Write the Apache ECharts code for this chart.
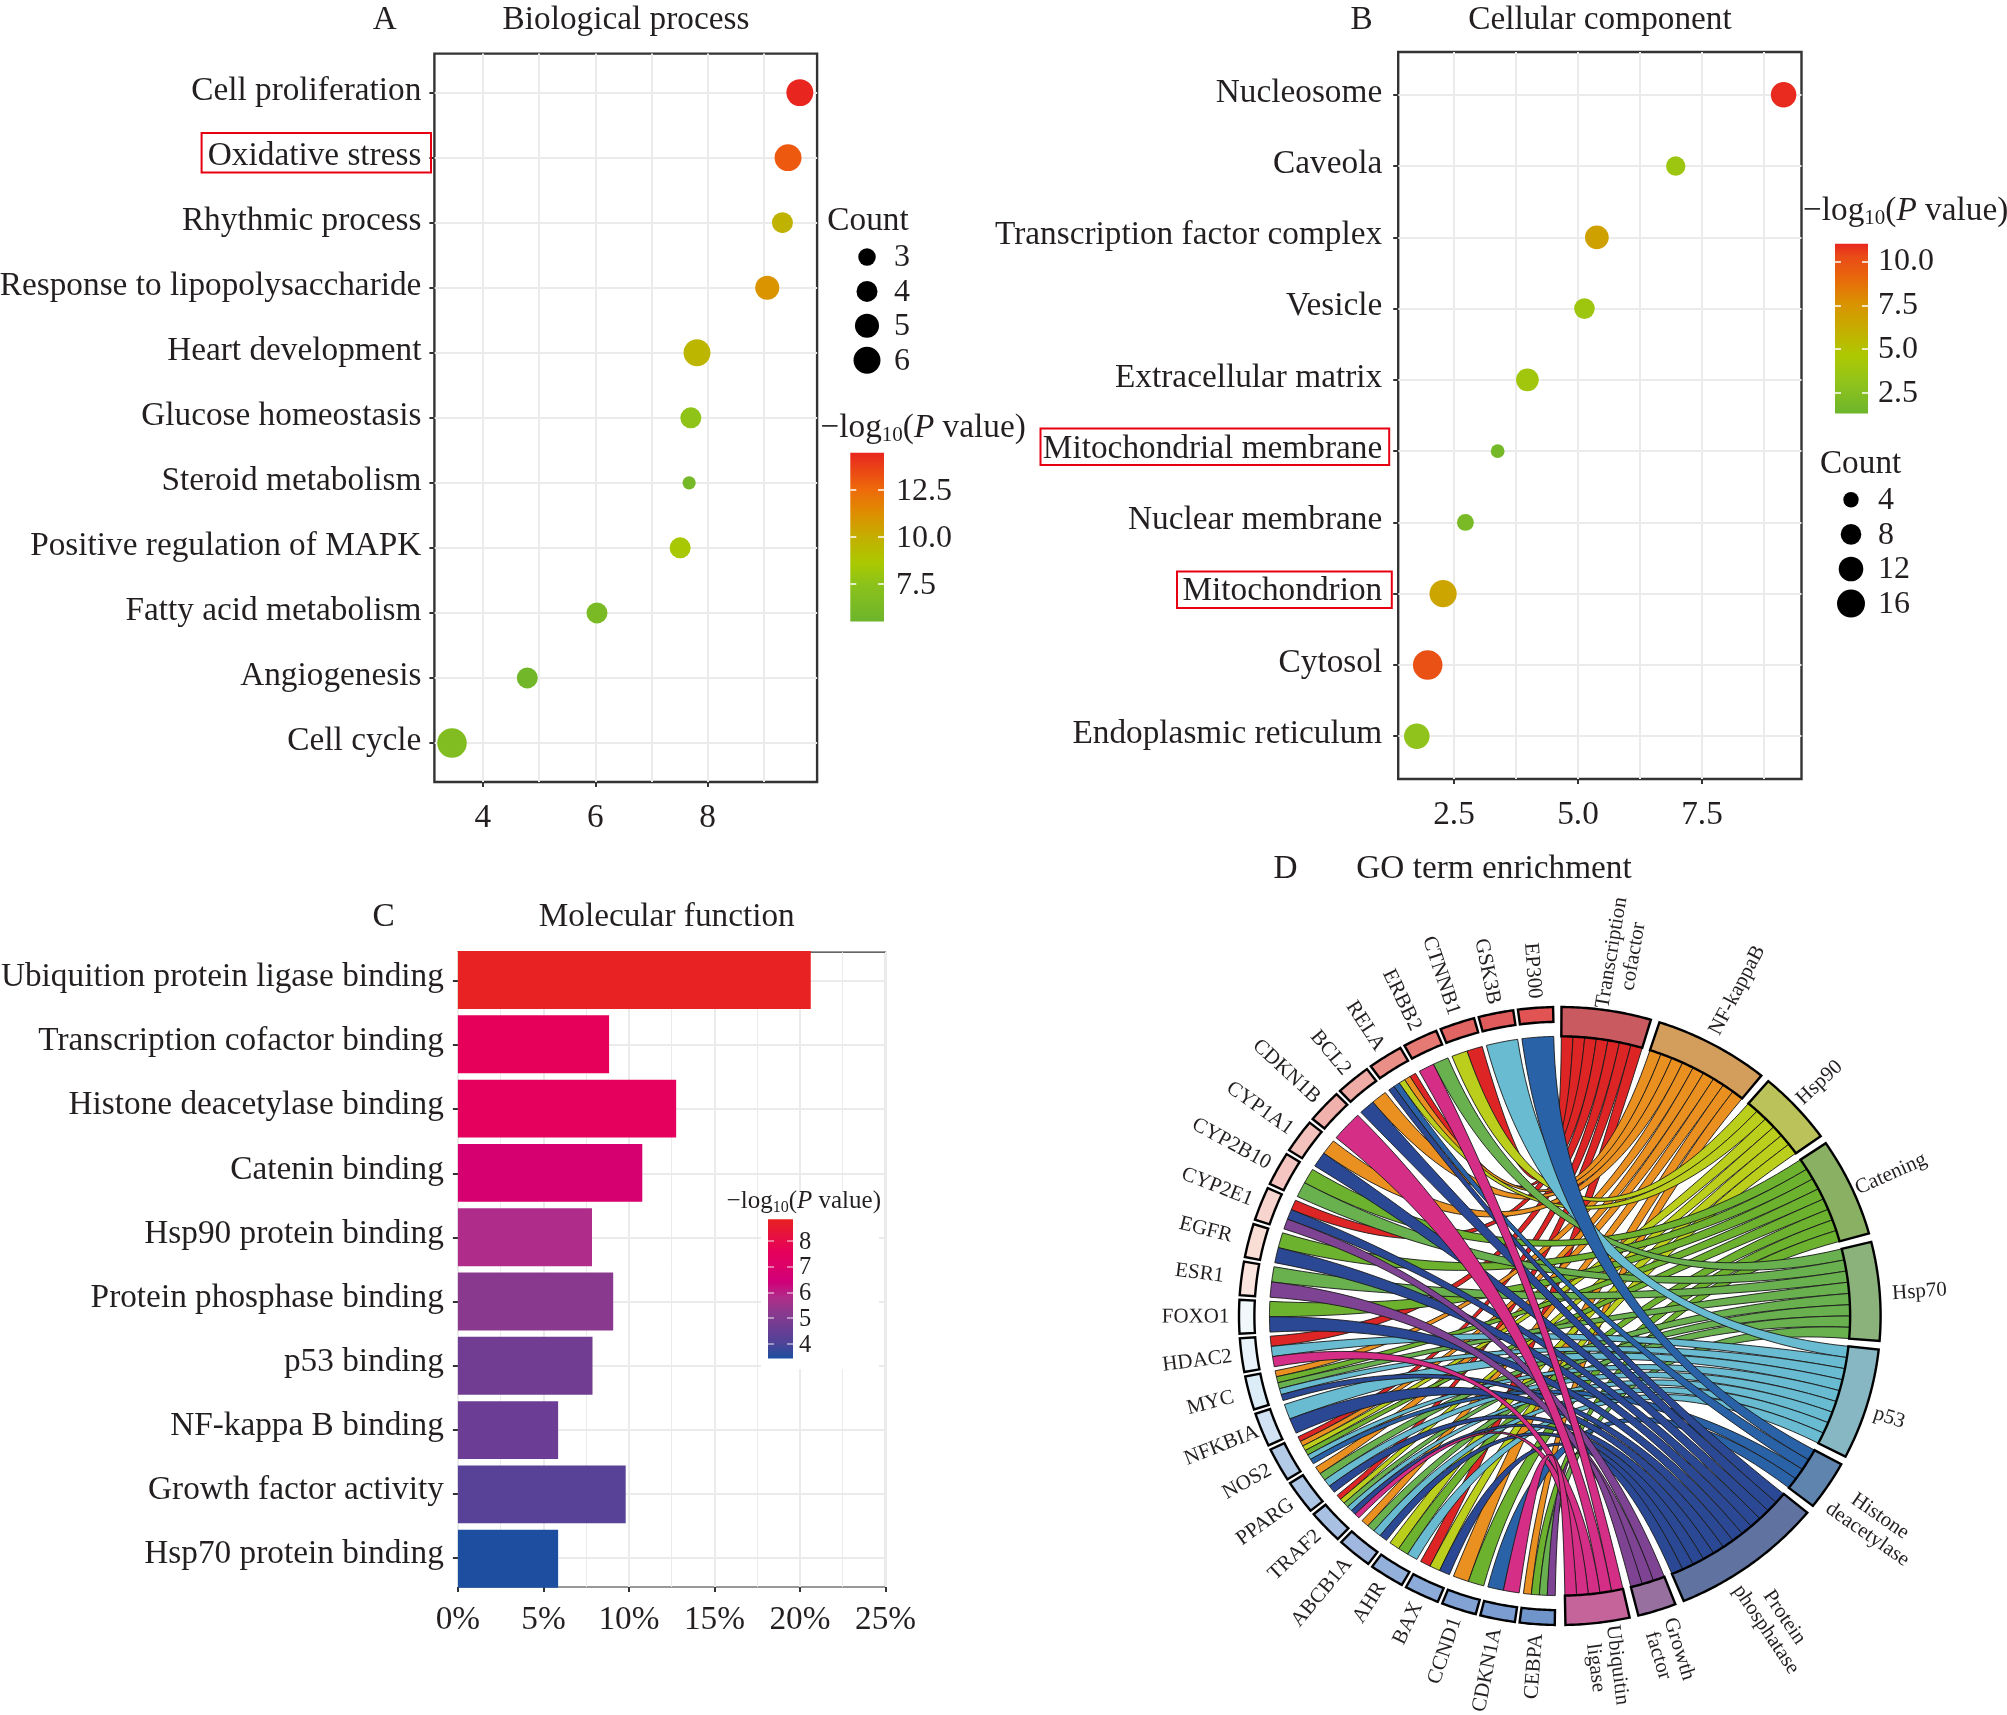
<!DOCTYPE html>
<html><head><meta charset="utf-8">
<style>html,body{margin:0;padding:0;background:#fff}#c{width:2007px;height:1715px}</style>
<script src="https://cdn.jsdelivr.net/npm/echarts@6/dist/echarts.min.js"></script>
</head><body><div id="c"></div>
<script>
// ---------- Panel A
const bpTerms = ['Cell proliferation','Oxidative stress','Rhythmic process','Response to lipopolysaccharide','Heart development','Glucose homeostasis','Steroid metabolism','Positive regulation of MAPK','Fatty acid metabolism','Angiogenesis','Cell cycle'];
const bpX = [9.64,9.43,9.33,9.06,7.81,7.70,7.67,7.51,6.03,4.79,3.45];
const bpCount = [6,6,4,5,6,4,2,4,4,4,7];
const bpLogP = [14.45,13,9.8,11,9.6,7.6,6,8.5,6.3,5.8,6.8];
const bpCountLegend = [3,4,5,6];
const bpTicks = [4,6,8];
const bpColorTicks = [7.5,10,12.5];
// ---------- Panel B
const ccTerms = ['Nucleosome','Caveola','Transcription factor complex','Vesicle','Extracellular matrix','Mitochondrial membrane','Nuclear membrane','Mitochondrion','Cytosol','Endoplasmic reticulum'];
const ccX = [9.145,6.97,5.38,5.13,3.98,3.38,2.73,2.28,1.97,1.75];
const ccCount = [13,7,11,8,10,3,5,15,18,13];
const ccLogP = [10.9,3.8,6.8,3.9,4,1.8,2,6.6,10,3.1];
const ccCountLegend = [4,8,12,16];
const ccTicks = [2.5,5,7.5];
const ccColorTicks = [2.5,5,7.5,10];
// ---------- Panel C
const mfTerms = ['Ubiquition protein ligase binding','Transcription cofactor binding','Histone deacetylase binding','Catenin binding','Hsp90 protein binding','Protein phosphase binding','p53 binding','NF-kappa B binding','Growth factor activity','Hsp70 protein binding'];
const mfPercent = [20.63,8.84,12.76,10.78,7.84,9.08,7.87,5.86,9.81,5.86];
const mfLogP = [8.83,7.6,7.5,6.7,5.8,5.2,4.7,4.6,4.2,3.45];
const mfTicks = [0,5,10,15,20,25];
const mfColorTicks = [4,5,6,7,8];
// ---------- Panel D
const goGenes = ['EP300','GSK3B','CTNNB1','ERBB2','RELA','BCL2','CDKN1B','CYP1A1','CYP2B10','CYP2E1','EGFR','ESR1','FOXO1','HDAC2','MYC','NFKBIA','NOS2','PPARG','TRAF2','ABCB1A','AHR','BAX','CCND1','CDKN1A','CEBPA'];
const goTerms = ['Transcription\ncofactor','NF-kappaB','Hsp90','Catening','Hsp70','p53','Histone\ndeacetylase','Protein\nphosphatase','Growth\nfactor','Ubiquitin\nligase'];
const goGeneTerms = [[6],[5],[0,2],[4,9],[0,1,2,6,7],[1,7],[9],[1,7],[3,4],[0,7,8],[3,7],[4,8],[3,7],[0,5,9],[1,3,4,5,7],[5,7],[0,1,2,3,5,6],[1,4,5,7],[0,2,4,5,7,9],[1,4,5,7],[2,3,5],[0,2,7],[1,3],[6,9],[1,3,4,8]];
// ---------- Colours
const goRibbonColors = ['#dc2524','#ea9020','#bbce1c','#6db22f','#69b04f','#68bbd0','#2a62a8','#2b4894','#7f4393','#d52e87'];
const goRingColors = ['#c95b60','#d39e5b','#bcc25a','#89b063','#8ab27a','#88b7c4','#5f84ad','#5f72a0','#9870a0','#c5649a'];
const goGeneColors = ['#e25354','#e05b5c','#e06462','#e57a74','#e98f88','#efaba5','#f0b0ac','#f4c2bd','#f5c6c1','#f8d4ce','#f9ded6','#fbe5de','#f0f8fc','#e8f3fb','#ddedf8','#d0e2f3','#b4cbe8','#afc7e6','#a8c0e2','#a0b8df','#92b0da','#8cabd8','#82a2d3','#7a9cd0','#6f95cb'];
const bpStops = [[5.52,'#6db52c'],[7.5,'#8cc21a'],[8.6,'#aac900'],[10,'#c4ae00'],[11.2,'#dd8f00'],[12.5,'#ee6a0a'],[14.45,'#e8261f']];
const ccStops = [[1.34,'#6db52c'],[3.2,'#92c41a'],[4.7,'#aec800'],[6.3,'#c8aa00'],[7.5,'#d89500'],[9,'#e8690a'],[10.3,'#ea4a18'],[11,'#e8261f']];
const mfStops = [[3.43,'#1c4ea0'],[4,'#4c4498'],[4.6,'#6c3d94'],[5.2,'#8a3a8e'],[5.8,'#b02c8a'],[6.4,'#d0007a'],[7,'#dc0068'],[7.6,'#e6005a'],[8.83,'#e82222']];

const FONT='Liberation Serif', INK='#231f20', FS=33.3;
function hex(c){return [1,3,5].map(i=>parseInt(c.substr(i,2),16));}
function colorAt(stops,v){
  if(v<=stops[0][0])return stops[0][1];
  for(let i=1;i<stops.length;i++){ if(v<=stops[i][0]){
    const t=(v-stops[i-1][0])/(stops[i][0]-stops[i-1][0]),a=hex(stops[i-1][1]),b=hex(stops[i][1]);
    return 'rgb('+a.map((x,k)=>Math.round(x+(b[k]-x)*t)).join(',')+')';}}
  return stops[stops.length-1][1];
}
const grids=[],xAxes=[],yAxes=[],series=[],graphics=[];
function addGrid(g){grids.push(Object.assign({outerBoundsMode:'none',containLabel:false},g));return grids.length-1;}
const GL='#ebebeb';
function text(t,x,y,size,extra){graphics.push({type:'text',z:5,style:Object.assign({text:t,x,y:y+2.5,font:size+'px "'+FONT+'"',fill:INK,align:'center',verticalAlign:'middle'},extra||{})});}
function logTitle(x,y,size){
  const s2=Math.round(size*0.62);
  graphics.push({type:'text',z:5,style:{text:'\u2212log{sub|10}({i|P} value)',x,y:y+2.5,font:size+'px "'+FONT+'"',fill:INK,align:'left',verticalAlign:'middle',
    rich:{sub:{font:s2+'px "'+FONT+'"',fill:INK,padding:[Math.round(size*0.42),0,0,0]},i:{font:'italic '+size+'px "'+FONT+'"',fill:INK}}}});
}
function redBox(x0,y0,x1,y1){graphics.push({type:'rect',z:5,shape:{x:x0,y:y0,width:x1-x0,height:y1-y0},style:{fill:'none',stroke:'#e60012',lineWidth:2}});}
function axisFont(size){return {fontFamily:FONT,fontSize:size,color:INK};}
// vertical nudge of axis labels: a short line box anchored on the tick
function nudge(px){ if(!px)return {}; return {verticalAlign:px<0?'bottom':'top',lineHeight:2*Math.abs(px)}; }

function frameAxes(gi,o){
  xAxes.push({gridIndex:gi,type:'value',min:o.xmin,max:o.xmax,position:'bottom',
    axisLine:{show:false,onZero:false},axisTick:{show:true,length:5,lineStyle:{color:'#333',width:2},customValues:o.ticks},
    axisLabel:Object.assign(axisFont(FS),{margin:o.xMargin,customValues:o.ticks,formatter:o.xFmt,interval:0,hideOverlap:false,showMinLabel:true,showMaxLabel:true}),
    splitLine:{show:true,lineStyle:{color:GL,width:o.majorW||2}}});
  const xi=xAxes.length-1;
  xAxes.push({gridIndex:gi,type:'value',min:o.xmin,max:o.xmax,position:'bottom',
    axisLine:{show:false,onZero:false},axisTick:{show:false,customValues:o.minor},axisLabel:{show:false,customValues:o.minor},
    splitLine:{show:true,lineStyle:{color:GL,width:o.minorW||2}}});
  yAxes.push({gridIndex:gi,type:'value',inverse:true,min:o.ymin,max:o.ymax,position:'left',
    axisLine:{show:false,onZero:false},axisTick:{show:true,length:5,lineStyle:{color:'#333',width:2},customValues:o.terms.map((_,i)=>i)},
    axisLabel:Object.assign(axisFont(FS),nudge(o.yNudge),{margin:o.yMargin,customValues:o.terms.map((_,i)=>i),formatter:v=>o.terms[Math.round(v)],interval:0,hideOverlap:false,showMinLabel:true,showMaxLabel:true}),
    splitLine:{show:true,lineStyle:{color:GL,width:2}}});
  return {xi,yi:yAxes.length-1};
}
function colorBar(left,top,w,h,vmin,vmax,stops,ticks,size,margin,fmt,tickColor,drop){
  const gi=addGrid({left,top,width:w,height:h,show:false});
  xAxes.push({gridIndex:gi,type:'value',min:0,max:1,show:false});
  const xi=xAxes.length-1;
  const mk=(pos,lab)=>({gridIndex:gi,type:'value',min:vmin,max:vmax,position:pos,z:3,
    axisLine:{show:false,onZero:false},splitLine:{show:false},
    axisTick:{show:true,inside:true,length:6,lineStyle:{color:tickColor||'#fff',width:1.5},customValues:ticks},
    axisLabel:lab?Object.assign(axisFont(size),nudge(drop),{margin,customValues:ticks,formatter:fmt,interval:0,hideOverlap:false,showMinLabel:true,showMaxLabel:true}):{show:false,customValues:ticks}});
  yAxes.push(mk('right',true));const yi=yAxes.length-1;
  yAxes.push(mk('left',false));
  const colorStops=stops.map(s=>({offset:(vmax-s[0])/(vmax-vmin),color:s[1]})).reverse();
  series.push({type:'custom',xAxisIndex:xi,yAxisIndex:yi,z:2,silent:true,clip:false,data:[[0,vmin,1,vmax]],
    renderItem:(p,api)=>{const a=api.coord([api.value(0),api.value(3)]),b=api.coord([api.value(2),api.value(1)]);
      return {type:'rect',shape:{x:a[0],y:a[1],width:b[0]-a[0],height:b[1]-a[1]},style:{fill:new echarts.graphic.LinearGradient(0,0,0,1,colorStops)}};}});
}
function countLegend(left,top,w,rowH,counts,sizeFn){
  const gi=addGrid({left,top,width:w,height:rowH*counts.length,show:false});
  xAxes.push({gridIndex:gi,type:'value',min:0,max:1,show:false});const xi=xAxes.length-1;
  yAxes.push({gridIndex:gi,type:'category',inverse:true,position:'right',data:counts.map(String),
    axisLine:{show:false,onZero:false},axisTick:{show:false},splitLine:{show:false},
    axisLabel:Object.assign(axisFont(32),nudge(1),{margin:10,interval:0})});
  series.push({type:'scatter',xAxisIndex:xi,yAxisIndex:yAxes.length-1,silent:true,data:counts.map((c,i)=>[0.5,i,c]),
    symbolSize:v=>sizeFn(v[2]),itemStyle:{color:'#000',opacity:1}});
}
function dotPanel(o){
  const gi=addGrid({left:o.l,top:o.t,width:o.r-o.l,height:o.b-o.t,show:true,borderColor:'#333',borderWidth:2.4,backgroundColor:'transparent'});
  const ax=frameAxes(gi,o);
  series.push({type:'scatter',xAxisIndex:ax.xi,yAxisIndex:ax.yi,silent:true,z:3,
    data:o.x.map((v,i)=>[v,i,o.count[i],o.logp[i]]),
    symbolSize:v=>o.size(v[2]),
    itemStyle:{opacity:1,color:p=>colorAt(o.stops,p.value[3])}});
}
// A
dotPanel({l:434.4,r:817.1,t:53.6,b:782,xmin:3.137,xmax:9.947,ymin:-0.6,ymax:10.6,terms:bpTerms,x:bpX,count:bpCount,logp:bpLogP,stops:bpStops,
  ticks:bpTicks,minor:[5,7,9],xMargin:20,yMargin:13,yNudge:-1.5,xFmt:v=>String(v),size:c=>-5.4+13.2*Math.sqrt(c)});
countLegend(850,239.8,34,34.4,bpCountLegend,c=>-5.4+13.2*Math.sqrt(c));
colorBar(850.3,452.7,33.7,168.7,5.52,14.45,bpStops,bpColorTicks,32,12,v=>v.toFixed(1),null,2);
text('A',384.7,17.7,FS);text('Biological process',626,17.7,FS);text('Count',868,218.6,FS);logTitle(820.5,426,FS);
redBox(201.6,132.9,431,172.5);
// B
dotPanel({l:1398.2,r:1801.5,t:52,b:779,xmin:1.375,xmax:9.506,ymin:-0.6,ymax:9.6,terms:ccTerms,x:ccX,count:ccCount,logp:ccLogP,stops:ccStops,
  ticks:ccTicks,minor:[3.75,6.25,8.75],xMargin:20,yMargin:16,yNudge:-2,xFmt:v=>v.toFixed(1),size:c=>2.8+6.3*Math.sqrt(c)});
countLegend(1834,482.5,34,34.6,ccCountLegend,c=>2.8+6.3*Math.sqrt(c));
colorBar(1835,243.7,33,169.9,1.34,11,ccStops,ccColorTicks,32,10,v=>v.toFixed(1),null,0);
text('B',1361.6,17.7,FS);text('Cellular component',1600,17.7,FS);text('Count',1860.6,461.8,FS);logTitle(1803,209,FS);
redBox(1040.5,428.6,1389.2,465);redBox(1177,571.6,1391.8,608);
// C
{
  const gi=addGrid({left:457.9,top:952.1,width:427.6,height:634.9,show:true,borderColor:'#333',borderWidth:1.2,backgroundColor:'transparent'});
  frameAxes(gi,{xmin:0,xmax:25,ymin:-0.45,ymax:9.45,terms:mfTerms,ticks:mfTicks,minor:[2.5,7.5,12.5,17.5,22.5],xMargin:17,yMargin:14,yNudge:-3.5,xFmt:v=>v+'%',majorW:2,minorW:1});
  const gd=addGrid({left:457.9,top:947.85,width:427.6,height:643,show:false});
  xAxes.push({gridIndex:gd,type:'value',min:0,max:25,show:false});
  yAxes.push({gridIndex:gd,type:'category',inverse:true,data:mfTerms,show:false});
  series.push({type:'bar',xAxisIndex:xAxes.length-1,yAxisIndex:yAxes.length-1,barWidth:'90%',silent:true,z:2,
    data:mfPercent.map((v,i)=>({value:v,itemStyle:{color:colorAt(mfStops,mfLogP[i])}}))});
  graphics.push({type:'rect',z:1,shape:{x:761,y:1191,width:118,height:178},style:{fill:'#fff'}});
  colorBar(768,1219.3,25,139.3,3.43,8.83,mfStops,mfColorTicks,24.5,6,v=>String(v),'rgba(255,255,255,0.6)',1.5);
  text('C',383.7,914.3,FS);text('Molecular function',666.7,914.3,FS);logTitle(726.6,1199.4,25);
}
// D
{
  const gi=addGrid({left:1239,top:1007,width:641.6,height:618,show:false});
  xAxes.push({gridIndex:gi,type:'value',min:-1,max:1,show:false});const xi=xAxes.length-1;
  yAxes.push({gridIndex:gi,type:'value',min:-1,max:1,show:false});const yi=yAxes.length-1;
  const D2R=Math.PI/180, RIB=0.905, GOUT=1, GIN=0.952, UNIT=2.314, GAP=1.6, GSTEP=7.15, GW=6.3, GSTART=-1.2, TSTART=0.3;
  const labelR=[1.186,1.19,1.107,1.13,1.124,1.078,1.19,1.2,1.14,1.143];
  const labelTh=[9.5,27.7,47,66,86,107.8,124.7,146,162.7,172.7];
  const geneLabelR={EGFR:1.055,ESR1:1.055,MYC:1.05,NFKBIA:1.012};
  const termSizes=goTerms.map((_,t)=>goGeneTerms.filter(g=>g.includes(t)).length);
  const termStart=[];let acc=TSTART;termSizes.forEach((n,t)=>{termStart[t]=acc;acc+=n*UNIT+GAP;});
  const pt=(th,r)=>[r*Math.sin(th*D2R),r*Math.cos(th*D2R)];
  const arc=(a,b,r)=>{const n=Math.max(2,Math.ceil(Math.abs(b-a)/0.5)),o=[];for(let i=0;i<=n;i++)o.push(pt(a+(b-a)*i/n,r));return o;};
  const quad=(p,q)=>{const o=[];for(let i=1;i<40;i++){const t=i/40,k=(1-t)*(1-t),m=t*t;o.push([k*p[0]+m*q[0],k*p[1]+m*q[1]]);}return o;};
  const used=goTerms.map(()=>0),ribbons=[];
  goGeneTerms.forEach((terms,g)=>{const top=GSTART-GSTEP*g,w=GW/terms.length;
    terms.forEach((t,j)=>{const b0=termStart[t]+used[t]*UNIT;used[t]++;
      ribbons.push({t,g0:top-(j+1)*w,g1:top-j*w,b0,b1:b0+UNIT});});});
  ribbons.sort((a,b)=>a.t-b.t);
  const project=(api,pts)=>pts.map(p=>api.coord(p));
  series.push({type:'custom',xAxisIndex:xi,yAxisIndex:yi,silent:true,z:2,clip:false,data:ribbons.map(r=>[0,0,r.t]),
    renderItem:(p,api)=>{const r=ribbons[p.dataIndex];
      const A=arc(r.b0,r.b1,RIB),B=arc(r.g0,r.g1,RIB);
      const pts=A.concat(quad(A[A.length-1],B[0]),B,quad(B[B.length-1],A[0]));
      return {type:'polygon',shape:{points:project(api,pts)},style:{fill:goRibbonColors[r.t],stroke:'#1a1a1a',lineWidth:0.9}};}});
  const ringPts=(a,b,r0,r1)=>arc(a,b,r1).concat(arc(b,a,r0));
  series.push({type:'custom',xAxisIndex:xi,yAxisIndex:yi,silent:true,z:3,clip:false,data:goTerms.map((_,t)=>[0,0,t]),
    renderItem:(p,api)=>{const t=p.dataIndex,a=termStart[t],b=a+termSizes[t]*UNIT;
      return {type:'polygon',shape:{points:project(api,ringPts(a,b,RIB,GOUT))},style:{fill:goRingColors[t],stroke:'#000',lineWidth:2.4}};}});
  series.push({type:'custom',xAxisIndex:xi,yAxisIndex:yi,silent:true,z:3,clip:false,data:goGenes.map((_,g)=>[0,0,g]),
    renderItem:(p,api)=>{const g=p.dataIndex,a=GSTART-GSTEP*g;
      return {type:'polygon',shape:{points:project(api,ringPts(a-GW,a,GIN,GOUT))},style:{fill:goGeneColors[g],stroke:'#000',lineWidth:2.4}};}});
  series.push({type:'custom',xAxisIndex:xi,yAxisIndex:yi,silent:true,z:4,clip:false,data:goGenes.map((_,g)=>[0,0,g]),
    renderItem:(p,api)=>{const g=p.dataIndex,th=GSTART-GSTEP*g-GW/2,c=api.coord(pt(th,geneLabelR[goGenes[g]]||1.03));
      return {type:'text',x:c[0],y:c[1],rotation:-(90+th)*D2R,style:{text:goGenes[g],font:'21px "'+FONT+'"',fill:INK,align:'right',verticalAlign:'middle'}};}});
  series.push({type:'custom',xAxisIndex:xi,yAxisIndex:yi,silent:true,z:4,clip:false,data:goTerms.map((_,t)=>[0,0,t]),
    renderItem:(p,api)=>{const t=p.dataIndex,th=labelTh[t],c=api.coord(pt(th,labelR[t]));
      return {type:'text',x:c[0],y:c[1],rotation:-(th-90)*D2R,style:{text:goTerms[t],font:'21px "'+FONT+'"',fill:INK,align:'center',verticalAlign:'middle',lineHeight:22}};}});
  text('D',1285.5,866.5,FS);text('GO term enrichment',1494,866.5,FS);
}
const chart=echarts.init(document.getElementById('c'),null,{renderer:'canvas',width:2007,height:1715});
chart.setOption({animation:false,backgroundColor:'#fff',tooltip:{show:false},grid:grids,xAxis:xAxes,yAxis:yAxes,series,graphic:{elements:graphics}});
</script></body></html>
